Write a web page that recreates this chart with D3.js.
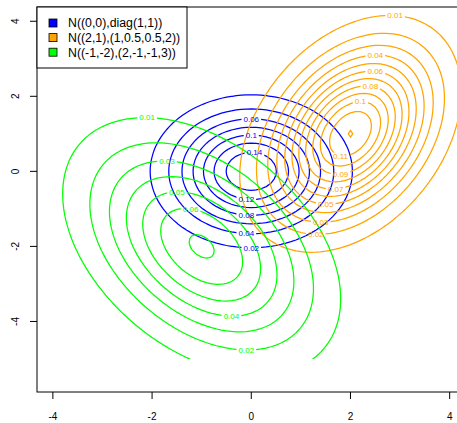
<!DOCTYPE html>
<html>
<head>
<meta charset="utf-8">
<script src="https://cdn.jsdelivr.net/npm/d3@7"></script>
<style>
  body { margin: 0; background: #fff; }
  svg { display: block; }
  text { font-family: "Liberation Sans", Arial, sans-serif; }
</style>
</head>
<body>
<div id="chart"></div>
<script>
// evaluation grid for the densities
const gridMin = -5, gridMax = 5, gridStep = 0.1;

// the three bivariate normals
const distNames = ["N((0,0),diag(1,1))", "N((2,1),(1,0.5,0.5,2))", "N((-1,-2),(2,-1,-1,3))"];
const means = [[0, 0], [2, 1], [-1, -2]];
const covs = [[1, 0, 0, 1], [1, 0.5, 0.5, 2], [2, -1, -1, 3]];
const colors = ["#0000FF", "#FFA500", "#00FF00"];

// contour levels per distribution
const levelsBlue = [0.02, 0.04, 0.06, 0.08, 0.1, 0.12, 0.14];
const levelsOrange = [0.01, 0.02, 0.03, 0.04, 0.05, 0.06, 0.07, 0.08, 0.09, 0.1, 0.11, 0.12];
const levelsGreen = [0.01, 0.02, 0.03, 0.04, 0.05, 0.06, 0.07];

// where each contour label sits (level, approx x, approx y)
const labelsBlue = [[0.06, 0, 1.35], [0.1, 0, 0.93], [0.14, 0.03, 0.45], [0.12, -0.05, -0.74],
                    [0.08, -0.07, -1.16], [0.04, -0.07, -1.67], [0.02, -0.03, -2.04]];
const labelsOrange = [[0.01, 2.85, 4.12], [0.04, 2.53, 3.05], [0.06, 2.47, 2.6], [0.08, 2.37, 2.2],
                      [0.1, 2.2, 1.77], [0.11, 1.84, 0.52], [0.09, 1.78, -0.01], [0.07, 1.72, -0.44],
                      [0.05, 1.48, -0.84], [0.03, 1.36, -1.35], [0.02, 1.28, -1.67]];
const labelsGreen = [[0.01, -2.09, 1.41], [0.03, -1.66, 0.23], [0.05, -1.46, -0.6],
                     [0.06, -1.26, -1.05], [0.04, -0.44, -3.86], [0.02, -0.14, -4.77]];

const xTicks = [-4, -2, 0, 2, 4];
const yTicks = [-4, -2, 0, 2, 4];
const xLim = [-4.32, 4.32], yLim = [-5.88, 4.38];

const width = 457, height = 423;
const plot = { left: 37, top: 7, bottom: 392 };
plot.right = plot.left + (xLim[1] - xLim[0]) * 49.6;

const x = d3.scaleLinear().domain(xLim).range([plot.left, plot.right]);
const y = d3.scaleLinear().domain(yLim).range([plot.bottom, plot.top]);

const svg = d3.select("#chart").append("svg")
  .attr("width", width).attr("height", height);
const defs = svg.append("defs");

// grid values
const gridVals = d3.range(gridMin, gridMax + gridStep / 2, gridStep).map(v => Math.round(v * 10) / 10);
const n = gridVals.length;

function density(mu, s) {
  const det = s[0] * s[3] - s[1] * s[2];
  const a = s[3] / det, b = -s[1] / det, d = s[0] / det;
  const k = 1 / (2 * Math.PI * Math.sqrt(det));
  const out = new Float64Array(n * n);
  for (let j = 0; j < n; j++) {
    for (let i = 0; i < n; i++) {
      const dx = gridVals[i] - mu[0], dy = gridVals[j] - mu[1];
      out[j * n + i] = k * Math.exp(-0.5 * (a * dx * dx + 2 * b * dx * dy + d * dy * dy));
    }
  }
  return out;
}

// grid coords -> data coords (d3.contours puts sample i at i + 0.5)
const gx = v => gridMin + (v - 0.5) * gridStep;
const proj = d3.geoTransform({
  point: function (px, py) { this.stream.point(x(gx(px)), y(gx(py))); }
});
const path = d3.geoPath(proj);

// clip to the plot box and to the sampled grid
defs.append("clipPath").attr("id", "clip")
  .append("rect")
  .attr("x", Math.max(plot.left, x(gridMin))).attr("y", plot.top)
  .attr("width", plot.right - plot.left)
  .attr("height", Math.min(plot.bottom, y(gridMin)) - plot.top);

const sets = [
  { levels: levelsBlue, labels: labelsBlue },
  { levels: levelsOrange, labels: labelsOrange },
  { levels: levelsGreen, labels: labelsGreen }
];

const labelLayer = [];

sets.forEach((set, k) => {
  const vals = density(means[k], covs[k]);
  const conts = d3.contours().size([n, n]).thresholds(set.levels)(vals);

  const maskId = "mask" + k;
  const mask = defs.append("mask").attr("id", maskId)
    .attr("maskUnits", "userSpaceOnUse")
    .attr("x", 0).attr("y", 0).attr("width", width).attr("height", height);
  mask.append("rect").attr("width", width).attr("height", height).attr("fill", "#fff");

  const g = svg.append("g").attr("clip-path", "url(#clip)")
    .append("g").attr("mask", "url(#" + maskId + ")");

  g.selectAll("path").data(conts).enter().append("path")
    .attr("d", path)
    .attr("fill", "none")
    .attr("stroke", colors[k])
    .attr("stroke-width", 1.25);

  // label positions snapped onto their contour
  set.labels.forEach(([lev, lx, ly]) => {
    const c = conts.find(c => Math.abs(c.value - lev) < 1e-9);
    if (!c) return;
    let best = null, bd = Infinity;
    c.coordinates.forEach(poly => poly.forEach(ring => ring.forEach(p => {
      const px = x(gx(p[0])), py = y(gx(p[1]));
      const dd = (px - x(lx)) ** 2 + (py - y(ly)) ** 2;
      if (dd < bd) { bd = dd; best = [px, py]; }
    })));
    labelLayer.push({ text: String(lev), pos: best, color: colors[k], mask: mask });
  });
});

const labelG = svg.append("g").attr("clip-path", "url(#clip)");
labelLayer.forEach(l => {
  const t = labelG.append("text")
    .attr("x", l.pos[0]).attr("y", l.pos[1])
    .attr("dy", "0.35em")
    .attr("text-anchor", "middle")
    .attr("font-size", 8)
    .attr("fill", l.color)
    .text(l.text);
  const w = t.node().getComputedTextLength();
  l.mask.append("rect")
    .attr("x", l.pos[0] - w / 2 - 2).attr("y", l.pos[1] - 3.5)
    .attr("width", w + 4).attr("height", 7)
    .attr("fill", "#000");
});

// box
svg.append("rect")
  .attr("x", plot.left).attr("y", plot.top)
  .attr("width", plot.right - plot.left).attr("height", plot.bottom - plot.top)
  .attr("fill", "none").attr("stroke", "#000").attr("stroke-width", 1);

// x axis
const xa = svg.append("g");
xTicks.forEach(t => {
  xa.append("line").attr("x1", x(t)).attr("x2", x(t))
    .attr("y1", plot.bottom).attr("y2", plot.bottom + 7).attr("stroke", "#000");
  xa.append("text").attr("x", x(t)).attr("y", 419.5)
    .attr("text-anchor", "middle").attr("font-size", 10).text(t);
});

// y axis
const ya = svg.append("g");
yTicks.forEach(t => {
  ya.append("line").attr("x1", plot.left - 7).attr("x2", plot.left)
    .attr("y1", y(t)).attr("y2", y(t)).attr("stroke", "#000");
  ya.append("text").attr("transform", `translate(18.5,${y(t)}) rotate(-90)`)
    .attr("text-anchor", "middle").attr("font-size", 10).text(t);
});

// legend
const leg = svg.append("g");
leg.append("rect").attr("x", plot.left).attr("y", plot.top)
  .attr("width", 150).attr("height", 61)
  .attr("fill", "#fff").attr("stroke", "#000");
distNames.forEach((name, i) => {
  const cy = 23 + i * 14.6;
  leg.append("rect").attr("x", 49).attr("y", cy - 4).attr("width", 8).attr("height", 8)
    .attr("fill", colors[i]).attr("stroke", "#000").attr("stroke-width", 0.8);
  leg.append("text").attr("x", 68).attr("y", cy).attr("dy", "0.35em")
    .attr("font-size", 12.3).text(name);
});
</script>
</body>
</html>
